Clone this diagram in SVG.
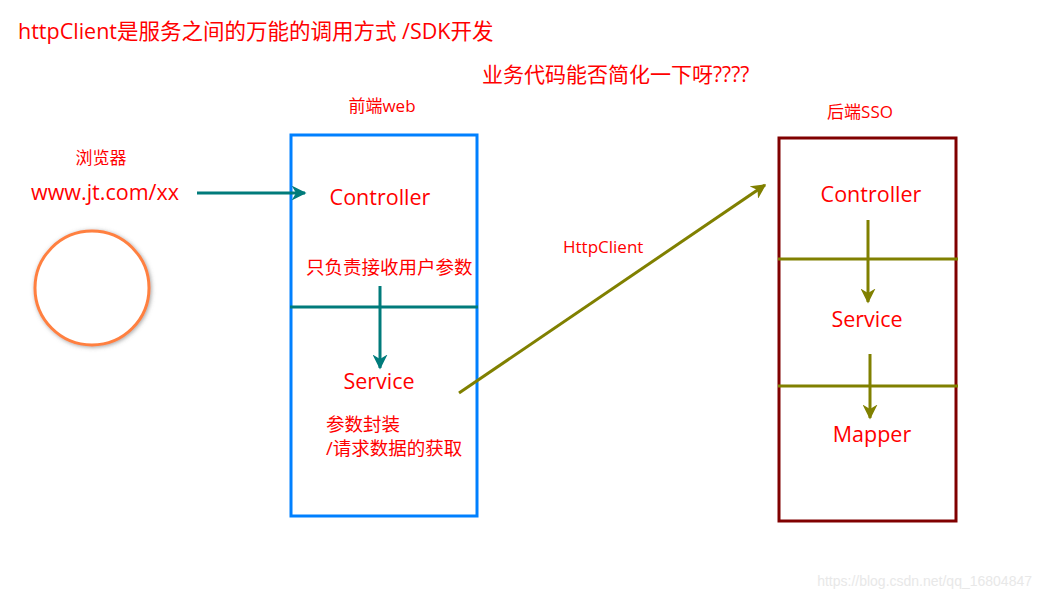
<svg xmlns="http://www.w3.org/2000/svg" width="1042" height="600" viewBox="0 0 1042 600">
<style>
text{font-family:"Open Sans","Noto Sans CJK SC",sans-serif;fill:#ff0000}
.s{font-size:17px}.c{font-size:18.5px}.m{font-size:21.5px}
.t{stroke:#007b7b;stroke-width:3;fill:none}
.o{stroke:#808000;stroke-width:3;fill:none}
</style>
<defs>
<marker id="at" viewBox="0 0 10 10" refX="9" refY="5" markerWidth="5" markerHeight="5" orient="auto"><path d="M0,0 L10,5 L0,10 L3,5 z" fill="#007b7b"/></marker>
<marker id="ao" viewBox="0 0 10 10" refX="9" refY="5" markerWidth="5" markerHeight="5" orient="auto"><path d="M0,0 L10,5 L0,10 L3,5 z" fill="#808000"/></marker>
<filter id="sh" x="-30%" y="-30%" width="160%" height="160%"><feDropShadow dx="1" dy="1" stdDeviation="2" flood-color="#666" flood-opacity="0.6"/></filter>
</defs>
<rect width="1042" height="600" fill="#fff"/>
<text x="18" y="39" font-size="21.5">httpClient是服务之间的万能的调用方式 /SDK开发</text>
<text x="482" y="82" font-size="21">业务代码能否简化一下呀????</text>
<g id="browser">
<text x="101" y="164" class="s" text-anchor="middle">浏览器</text>
<text x="105" y="200" class="m" text-anchor="middle">www.jt.com/xx</text>
<circle cx="92" cy="288" r="57" fill="#fff" stroke="#ff8040" stroke-width="3" filter="url(#sh)"/>
</g>
<g id="frontend">
<text x="382" y="112" class="s" text-anchor="middle">前端web</text>
<rect x="291" y="135" width="186" height="381" fill="none" stroke="#0080ff" stroke-width="3"/>
<line x1="290" y1="307" x2="478" y2="307" class="t"/>
<text x="380" y="205" class="m" text-anchor="middle">Controller</text>
<text x="306" y="274" class="c">只负责接收用户参数</text>
<text x="379" y="389" class="m" text-anchor="middle">Service</text>
<text x="326" y="431" class="c">参数封装</text>
<text x="326" y="455" class="c">/请求数据的获取</text>
</g>
<g id="backend">
<text x="860" y="118" class="s" text-anchor="middle">后端SSO</text>
<rect x="779" y="138" width="177" height="383" fill="none" stroke="#800000" stroke-width="3"/>
<line x1="778" y1="259" x2="958" y2="259" class="o"/>
<line x1="778" y1="386" x2="958" y2="386" class="o"/>
<text x="871" y="202" class="m" text-anchor="middle">Controller</text>
<text x="867" y="327" class="m" text-anchor="middle">Service</text>
<text x="872" y="442" class="m" text-anchor="middle">Mapper</text>
</g>
<g id="connectors">
<line x1="197" y1="193" x2="305" y2="193" class="t" marker-end="url(#at)"/>
<line x1="380" y1="286" x2="380" y2="368" class="t" marker-end="url(#at)"/>
<line x1="459" y1="393" x2="765" y2="185" class="o" marker-end="url(#ao)"/>
<line x1="868" y1="220" x2="868" y2="302" class="o" marker-end="url(#ao)"/>
<line x1="870" y1="354" x2="870" y2="418" class="o" marker-end="url(#ao)"/>
<text x="563" y="253" class="s">HttpClient</text>
</g>
<text x="1032" y="586" font-size="14" style="fill:#e8e8e8;font-family:'Liberation Sans',sans-serif" text-anchor="end">https://blog.csdn.net/qq_16804847</text>
</svg>
